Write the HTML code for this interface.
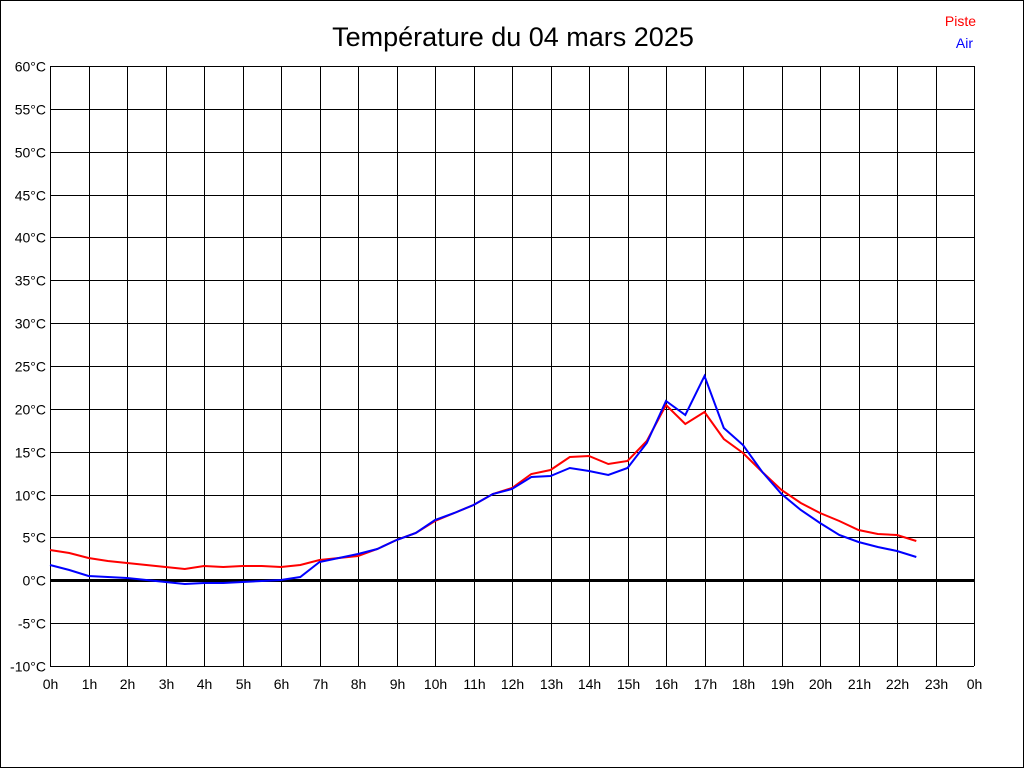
<!DOCTYPE html>
<html><head><meta charset="utf-8"><style>html,body{margin:0;padding:0;background:#fff}</style></head>
<body>
<svg width="1024" height="768" xmlns="http://www.w3.org/2000/svg" font-family="Liberation Sans, sans-serif">
<rect x="0.5" y="0.5" width="1023" height="767" fill="#fff" stroke="#000"/>
<text x="513" y="46" font-size="27" text-anchor="middle">Température du 04 mars 2025</text>
<text x="976" y="26" font-size="14" fill="#f00" text-anchor="end">Piste</text>
<text x="973" y="48" font-size="14" fill="#00f" text-anchor="end">Air</text>
<g id="grid" stroke="#000" stroke-width="1" shape-rendering="crispEdges"></g>
<g id="labels" font-size="14" fill="#000"></g>
<polyline id="red" fill="none" stroke="#f00" stroke-width="2" points=""/>
<polyline id="blue" fill="none" stroke="#00f" stroke-width="2" points=""/>
</svg>
<script>
var ns="http://www.w3.org/2000/svg",g=document.getElementById('grid'),L=document.getElementById('labels');
function el(p,t,a){var e=document.createElementNS(ns,t);for(var k in a)e.setAttribute(k,a[k]);p.appendChild(e);return e;}
for(var i=0;i<=24;i++){var x=Math.round(50+i*38.5)+0.5;el(g,'line',{x1:x,y1:66,x2:x,y2:666});
var t=el(L,'text',{x:x,y:689,'text-anchor':'middle'});t.textContent=(i%24)+'h';}
for(var j=0;j<=14;j++){var v=60-5*j,y=Math.round(66+j*600/14)+0.5;
if(v==0){el(g,'line',{x1:50,y1:y,x2:974,y2:y,'stroke-width':3});}else el(g,'line',{x1:50,y1:y,x2:974,y2:y});
var t=el(L,'text',{x:46,y:y+5,'text-anchor':'end'});t.textContent=v+'°C';}
var R=[550,553,558,561,563,565,567,569,566,567,566,566,567,565,560,558,556,549,540,533,521,513,505,494,488,474,470,457,456,464,461,441,405,424,412,439,453,472,490,503,513,521,530,534,535,541];
var B=[565,570,576,577,578,580,582,584,583,583,582,581,580,577,562,558,554,549,540,533,520,513,505,494,489,477,476,468,471,475,468,443,401,415,376,428,445,472,494,510,523,535,542,547,551,557];
function pts(a){return a.map(function(y,i){return (50+i*19.25).toFixed(1)+','+y}).join(' ');}
document.getElementById('red').setAttribute('points',pts(R));
document.getElementById('blue').setAttribute('points',pts(B));
</script>
</body></html>
